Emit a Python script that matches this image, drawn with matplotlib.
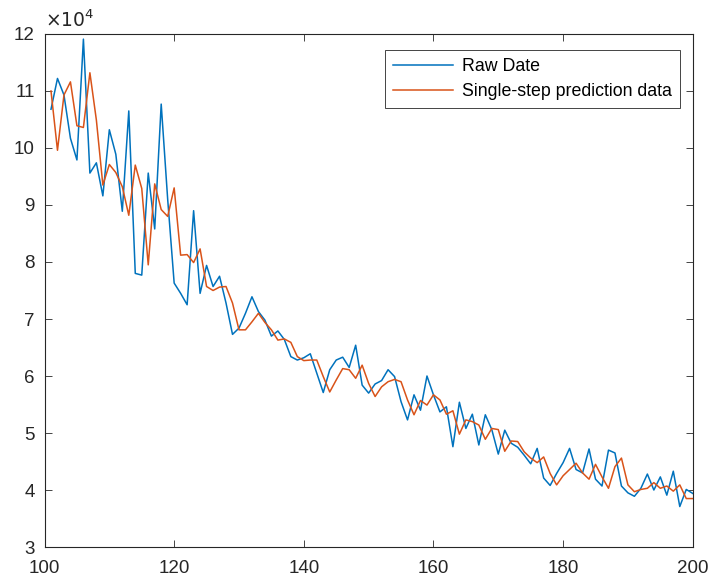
import matplotlib.pyplot as plt

plt.rcParams['font.family'] = ['Liberation Sans', 'DejaVu Sans']

# Zeitraum 101..200, Werte in Einheiten von 1e4
x = list(range(101, 201))

raw = [10.68, 11.22, 10.93, 10.17, 9.79, 11.91, 9.56, 9.74, 9.16, 10.32,
       9.89, 8.89, 10.65, 7.80, 7.77, 9.56, 8.58, 10.77, 9.10, 7.63,
       7.45, 7.25, 8.90, 7.45, 7.94, 7.57, 7.75, 7.28, 6.73, 6.84,
       7.10, 7.39, 7.13, 6.98, 6.70, 6.79, 6.64, 6.34, 6.28, 6.32,
       6.39, 6.05, 5.71, 6.11, 6.28, 6.33, 6.15, 6.54, 5.84, 5.70,
       5.86, 5.92, 6.11, 5.99, 5.55, 5.23, 5.67, 5.40, 6.00, 5.67,
       5.37, 5.46, 4.76, 5.54, 5.08, 5.33, 4.79, 5.32, 5.06, 4.63,
       5.05, 4.82, 4.75, 4.61, 4.46, 4.73, 4.21, 4.08, 4.29, 4.48,
       4.73, 4.36, 4.30, 4.72, 4.19, 4.07, 4.70, 4.65, 4.07, 3.95,
       3.89, 4.03, 4.28, 4.00, 4.23, 3.91, 4.33, 3.71, 4.01, 3.94]

pred = [11.00, 9.96, 10.93, 11.16, 10.39, 10.36, 11.32, 10.49, 9.35, 9.71,
        9.57, 9.32, 8.82, 9.70, 9.29, 7.95, 9.37, 8.92, 8.80, 9.30,
        8.12, 8.13, 7.99, 8.23, 7.57, 7.50, 7.56, 7.57, 7.28, 6.81,
        6.81, 6.95, 7.10, 6.94, 6.81, 6.63, 6.65, 6.59, 6.34, 6.27,
        6.28, 6.28, 5.99, 5.72, 5.93, 6.13, 6.11, 5.96, 6.19, 5.87,
        5.64, 5.81, 5.90, 5.94, 5.90, 5.58, 5.32, 5.57, 5.49, 5.67,
        5.58, 5.33, 5.39, 4.98, 5.23, 5.20, 5.14, 4.89, 5.08, 5.06,
        4.68, 4.86, 4.85, 4.67, 4.56, 4.48, 4.58, 4.29, 4.09, 4.25,
        4.36, 4.47, 4.30, 4.19, 4.45, 4.23, 4.03, 4.41, 4.56, 4.09,
        3.97, 4.01, 4.03, 4.13, 4.03, 4.07, 3.98, 4.09, 3.85, 3.85]

fig = plt.figure(figsize=(7.1, 5.81), dpi=100)
ax = fig.add_axes([0.0627, 0.0585, 0.913, 0.883])

ax.plot(x, raw, color='#0072BD', lw=1.1, label='Raw Date')
ax.plot(x, pred, color='#D95319', lw=1.1, label='Single-step prediction data')

ax.set_xlim(100, 200)
ax.set_ylim(3, 12)
ax.set_xticks(range(100, 201, 20))
ax.set_yticks(range(3, 13))
ax.tick_params(direction='in', top=True, right=True, labelsize=13.5,
               length=5, width=0.6, color='#262626', labelcolor='#262626')
ax.tick_params(axis='x', pad=9)
ax.tick_params(axis='y', pad=7)
for s in ax.spines.values():
    s.set_color('#262626')
    s.set_linewidth(0.8)

# Exponent wie bei MATLAB oben links
ax.text(0.0, 1.005, r'$\times10^{4}$', transform=ax.transAxes,
        fontsize=13.5, color='#262626', va='bottom', ha='left')

leg = ax.legend(loc='upper right', bbox_to_anchor=(0.98, 0.969),
                fontsize=12.8, fancybox=False, framealpha=1,
                edgecolor='#262626', handlelength=3.4, handletextpad=0.5,
                borderpad=0.45, labelspacing=0.45, borderaxespad=0.0)
leg.get_frame().set_linewidth(0.6)

fig.savefig('out.png', dpi=100)
